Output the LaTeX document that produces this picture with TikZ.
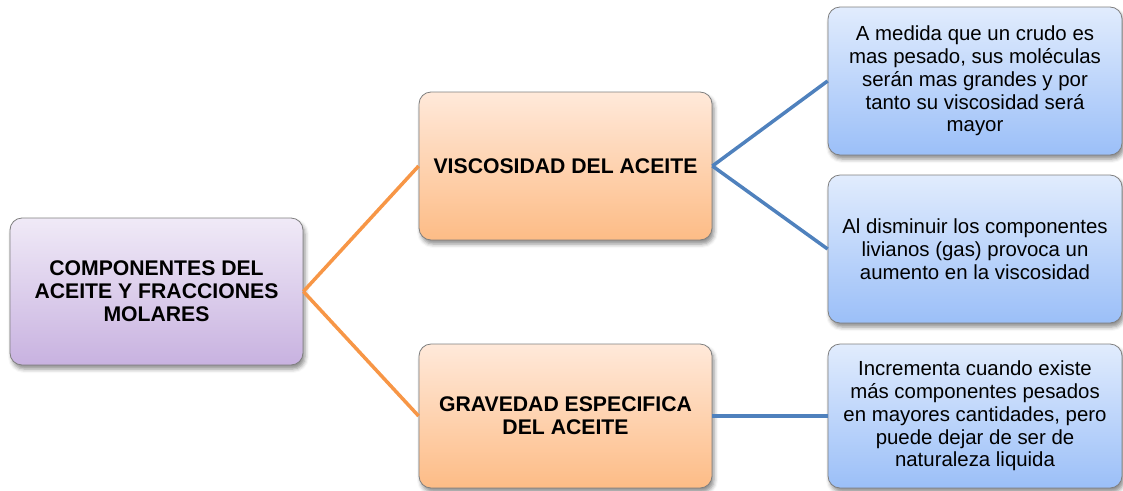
\documentclass[tikz,border=0pt]{standalone}
\usepackage{fontspec}
\setmainfont{Liberation Sans}
\usetikzlibrary{shadows.blur}
\definecolor{rootTop}{HTML}{F0EAF7}
\definecolor{rootBot}{HTML}{C8B2E0}
\definecolor{oraTop}{HTML}{FFE9DA}
\definecolor{oraBot}{HTML}{FDBC86}
\definecolor{bluTop}{HTML}{E1ECFD}
\definecolor{bluBot}{HTML}{9BBFF8}
\definecolor{oraLine}{HTML}{F79646}
\definecolor{bluLine}{HTML}{4F81BD}
\definecolor{edgeGray}{HTML}{7F7F7F}
\tikzset{
  boxbase/.style={draw=edgeGray, line width=0.8pt, rounded corners=12pt, align=center,
    inner sep=4pt, blur shadow={shadow xshift=2pt, shadow yshift=-4pt, shadow blur radius=4pt, shadow opacity=45}},
  rootbox/.style={boxbase, top color=rootTop, bottom color=rootBot, minimum width=293pt, minimum height=147pt,
    font=\fontsize{21.2}{23}\selectfont\bfseries},
  midbox/.style={boxbase, top color=oraTop, bottom color=oraBot, minimum width=293pt,
    font=\fontsize{21.2}{23}\selectfont\bfseries},
  leafbox/.style={boxbase, top color=bluTop, bottom color=bluBot, minimum width=294pt,
    font=\fontsize{20.4}{22.8}\selectfont},
  oraconn/.style={draw=oraLine, line width=3.5pt},
  bluconn/.style={draw=bluLine, line width=3.5pt}
}
\begin{document}
\begin{tikzpicture}[x=1pt,y=-1pt]
\useasboundingbox (0,0) rectangle (1123,490);
\node[rootbox] (root) at (156.5,291.5) {COMPONENTES DEL\\ACEITE Y FRACCIONES\\MOLARES};
\node[midbox, minimum height=148pt] (visc) at (565.5,166) {VISCOSIDAD DEL ACEITE};
\node[midbox, minimum height=144pt] (grav) at (565.5,416) {GRAVEDAD ESPECIFICA\\DEL ACEITE};
\node[leafbox, minimum height=148pt] (b1) at (975,81) {A medida que un crudo es\\mas pesado, sus moléculas\\serán mas grandes y por\\tanto su viscosidad será\\mayor};
\node[leafbox, minimum height=148pt] (b2) at (975,249) {Al disminuir los componentes\\livianos (gas) provoca un\\aumento en la viscosidad};
\node[leafbox, minimum height=144pt] (b3) at (975,416) {Incrementa cuando existe\\más componentes pesados\\en mayores cantidades, pero\\puede dejar de ser de\\naturaleza liquida};
\draw[oraconn] (root.east) -- (visc.west);
\draw[oraconn] (root.east) -- (grav.west);
\draw[bluconn] (visc.east) -- (b1.west);
\draw[bluconn] (visc.east) -- (b2.west);
\draw[bluconn] (grav.east) -- (b3.west);
\end{tikzpicture}
\end{document}
